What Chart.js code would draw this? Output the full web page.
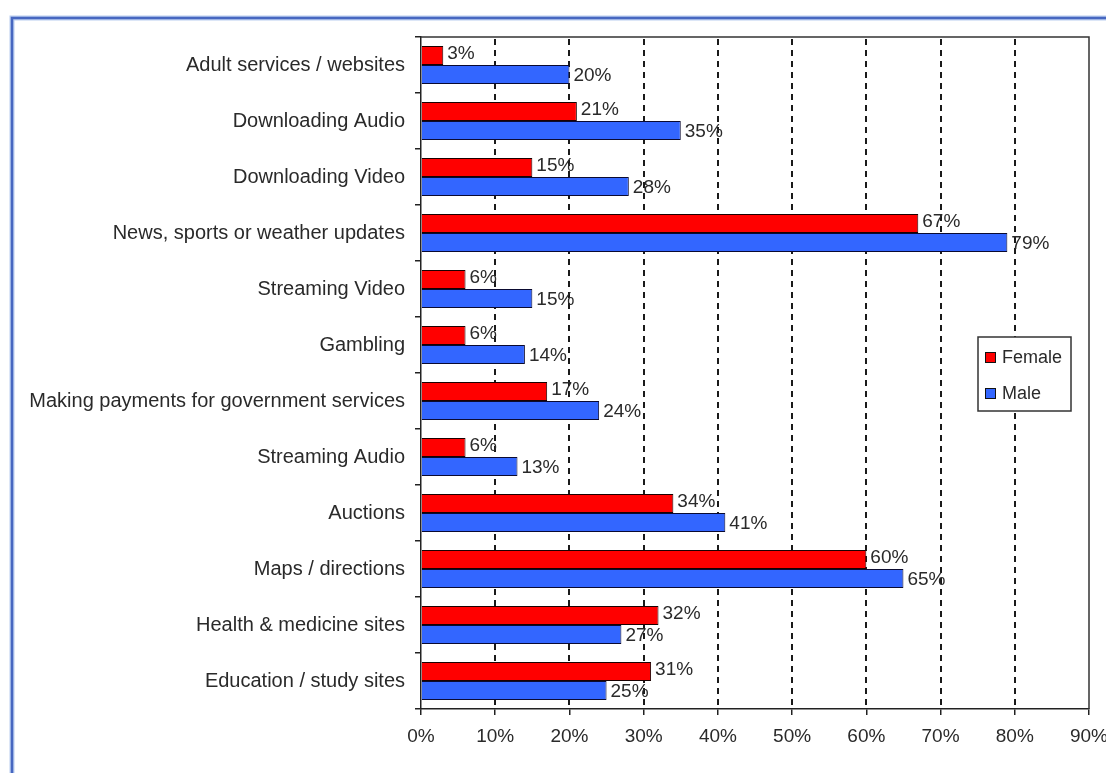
<!DOCTYPE html>
<html>
<head>
<meta charset="utf-8">
<script src="https://cdn.jsdelivr.net/npm/chart.js@4/dist/chart.umd.min.js"></script>
<style>
  html, body { margin: 0; padding: 0; background: #fff; }
  #wrap { position: relative; width: 1106px; height: 773px; }
</style>
</head>
<body>
<div id="wrap"><canvas id="chart" width="1106" height="773"></canvas></div>
<script>
// Internet activities by gender — horizontal grouped bars

const categories = [
  "Adult services / websites",
  "Downloading Audio",
  "Downloading Video",
  "News, sports or weather updates",
  "Streaming Video",
  "Gambling",
  "Making payments for government services",
  "Streaming Audio",
  "Auctions",
  "Maps / directions",
  "Health & medicine sites",
  "Education / study sites"
];
const female = [3, 21, 15, 67, 6, 6, 17, 6, 34, 60, 32, 31];
const male = [20, 35, 28, 79, 15, 14, 24, 13, 41, 65, 27, 25];
const xTicks = [0, 10, 20, 30, 40, 50, 60, 70, 80, 90];

const TEXT = "#2a2a2a";
const FONT = "'Liberation Sans', Arial, sans-serif";

// ---------- extra drawing: frame, dashed grid, plot border, labels, legend ----------
const decor = {
  id: "decor",
  beforeDraw(chart) {
    const ctx = chart.ctx;
    ctx.save();
    ctx.fillStyle = "#fff";
    ctx.fillRect(0, 0, chart.width, chart.height);
    // outer blue frame (runs off the right/bottom edge)
    ctx.strokeStyle = "#b9cdf0";
    ctx.lineWidth = 5;
    ctx.strokeRect(12, 18, 1300, 1000);
    ctx.strokeStyle = "#4767c0";
    ctx.lineWidth = 2.5;
    ctx.strokeRect(12, 18, 1300, 1000);
    ctx.restore();
  },
  beforeDatasetsDraw(chart) {
    const { ctx, chartArea: a, scales: { x } } = chart;
    ctx.save();
    ctx.strokeStyle = "#1a1a1a";
    ctx.lineWidth = 2;
    ctx.setLineDash([6, 5]);
    xTicks.forEach((v) => {
      if (v === 0 || v === 90) return;
      const px = Math.round(x.getPixelForValue(v));
      ctx.beginPath();
      ctx.moveTo(px, a.top + 2);
      ctx.lineTo(px, a.bottom);
      ctx.stroke();
    });
    ctx.restore();
  },
  afterDatasetsDraw(chart) {
    const { ctx, chartArea: a } = chart;
    ctx.save();
    // top and right plot border
    ctx.strokeStyle = "#333";
    ctx.lineWidth = 1.5;
    ctx.beginPath();
    ctx.moveTo(a.left, a.top);
    ctx.lineTo(a.right, a.top);
    ctx.lineTo(a.right, a.bottom);
    ctx.stroke();

    // value labels
    ctx.font = "19px " + FONT;
    ctx.fillStyle = TEXT;
    ctx.textBaseline = "middle";
    ctx.textAlign = "left";
    chart.data.datasets.forEach((ds, di) => {
      const meta = chart.getDatasetMeta(di);
      meta.data.forEach((bar, i) => {
        ctx.fillText(ds.data[i] + "%", bar.x + 4, bar.y + (di === 0 ? -2 : 1));
      });
    });

    // legend box inside plot
    const lx = 978, ly = 337, lw = 93, lh = 74;
    ctx.fillStyle = "#fff";
    ctx.fillRect(lx, ly, lw, lh);
    ctx.strokeStyle = "#333";
    ctx.lineWidth = 1.5;
    ctx.strokeRect(lx, ly, lw, lh);
    const items = [
      { label: "Female", color: chart.data.datasets[0].backgroundColor, y: 357 },
      { label: "Male", color: chart.data.datasets[1].backgroundColor, y: 393 }
    ];
    ctx.font = "18px " + FONT;
    items.forEach((it) => {
      ctx.fillStyle = it.color;
      ctx.fillRect(985, it.y - 5, 10, 10);
      ctx.strokeStyle = "#111";
      ctx.lineWidth = 1;
      ctx.strokeRect(985.5, it.y - 4.5, 10, 10);
      ctx.fillStyle = TEXT;
      ctx.fillText(it.label, 1002, it.y + 1);
    });
    ctx.restore();
  }
};

new Chart(document.getElementById("chart"), {
  type: "bar",
  data: {
    labels: categories,
    datasets: [
      {
        label: "Female",
        data: female,
        backgroundColor: "#ff0000",
        borderColor: "#1a0000",
        borderWidth: 1,
        categoryPercentage: 0.68,
        barPercentage: 1.0
      },
      {
        label: "Male",
        data: male,
        backgroundColor: "#3366ff",
        borderColor: "#0a0a30",
        borderWidth: 1,
        categoryPercentage: 0.68,
        barPercentage: 1.0
      }
    ]
  },
  options: {
    indexAxis: "y",
    responsive: false,
    animation: false,
    layout: { padding: { left: 0, top: 37, right: 17, bottom: 0 } },
    plugins: {
      legend: { display: false },
      tooltip: { enabled: false }
    },
    scales: {
      x: {
        min: 0,
        max: 90,
        afterBuildTicks: (scale) => {
          scale.ticks = xTicks.map((v) => ({ value: v }));
        },
        afterFit: (scale) => {
          scale.height = 64;
          scale.paddingRight = 0;
          scale.paddingLeft = 0;
        },
        grid: {
          drawOnChartArea: false,
          drawTicks: true,
          tickLength: 6,
          tickColor: "#222",
          lineWidth: 1.5
        },
        border: { display: true, color: "#222", width: 1.5 },
        ticks: {
          color: TEXT,
          font: { family: FONT, size: 19 },
          padding: 10,
          maxRotation: 0,
          callback: (v) => v + "%"
        }
      },
      y: {
        afterFit: (scale) => {
          scale.width = 421;
        },
        grid: {
          offset: true,
          drawOnChartArea: false,
          drawTicks: true,
          tickLength: 6,
          tickColor: "#222",
          lineWidth: 1.5
        },
        border: { display: true, color: "#222", width: 1.5 },
        ticks: {
          color: TEXT,
          font: { family: FONT, size: 20 },
          padding: 10,
          autoSkip: false
        }
      }
    }
  },
  plugins: [decor]
});
</script>
</body>
</html>
